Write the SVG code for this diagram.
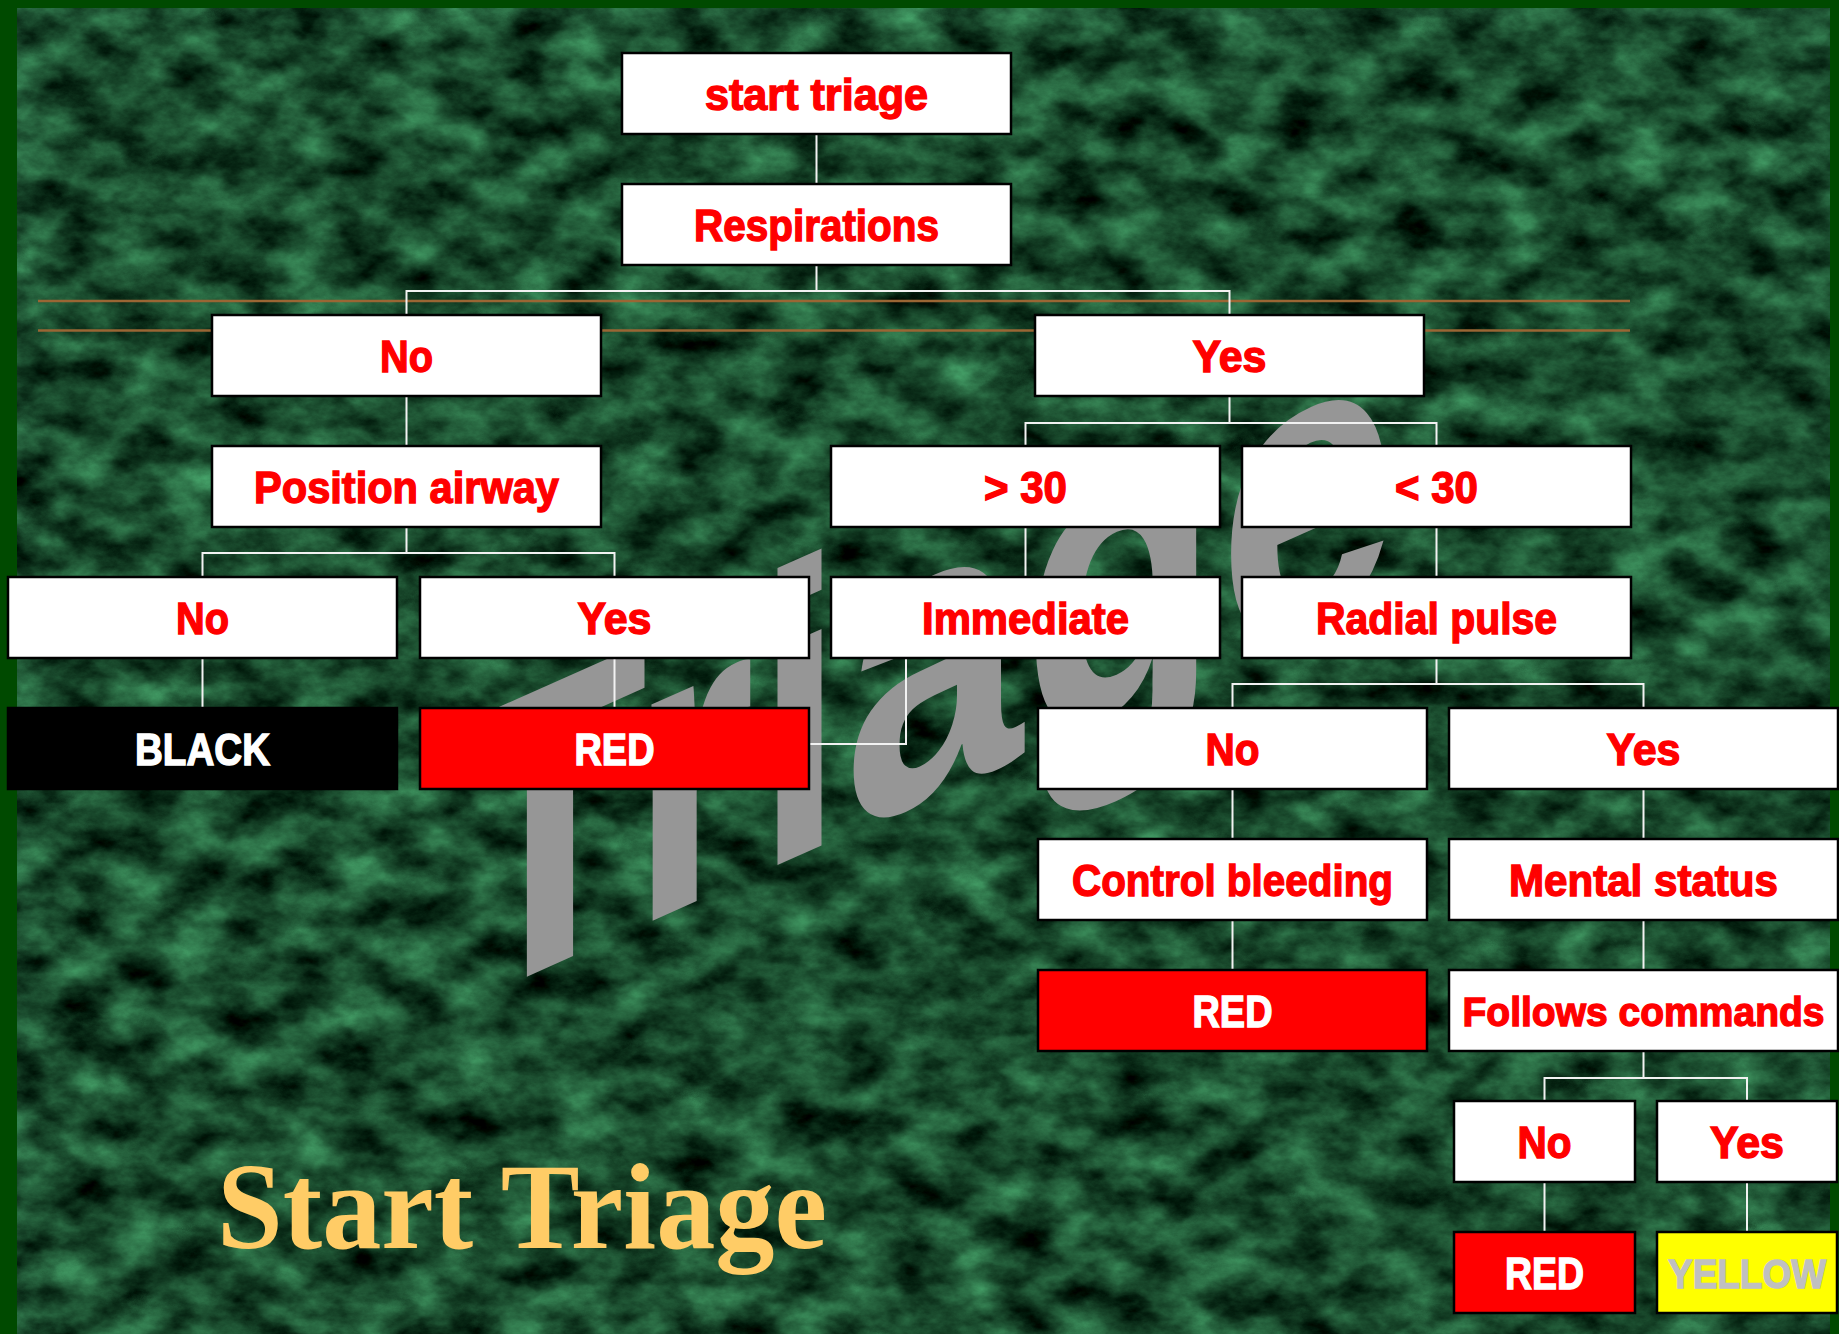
<svg xmlns="http://www.w3.org/2000/svg" width="1839" height="1334" viewBox="0 0 1839 1334">
<style>
.box{fill:#ffffff;stroke:#000000;stroke-width:2.5}
.lbl{font-family:"Liberation Sans",Arial,sans-serif;font-weight:bold;font-size:44px;fill:#ff0000;stroke:#ff0000;stroke-width:1.4;text-anchor:middle}
.tight{font-size:41px}
.wl{fill:#ffffff;stroke:#ffffff}
.gl{fill:#c0c0c0;stroke:#c0c0c0}
.con{fill:none;stroke:#f2f2f2;stroke-width:2}
.brown{stroke:#9a6634;stroke-width:2.5}
</style>
<defs>
<filter id="marble" x="0" y="0" width="100%" height="100%" color-interpolation-filters="sRGB">
<feTurbulence type="fractalNoise" baseFrequency="0.018 0.028" numOctaves="6" seed="7" result="n"/>
<feColorMatrix in="n" type="matrix" values="0.4 0 0 0 -0.1  0.8 0 0 0 -0.11  0.55 0 0 0 -0.1  0 0 0 0 1"/>
</filter>
</defs>
<rect x="0" y="0" width="1839" height="1334" fill="#004a00"/>
<rect x="17" y="8" width="1813" height="1326" fill="#1a5030"/>
<rect x="17" y="8" width="1813" height="1326" filter="url(#marble)"/>
<g id="watermark">
<text x="0" y="0" transform="translate(452 1010) skewY(-24)" font-family="Liberation Sans, Arial, sans-serif" font-weight="bold" font-size="410" textLength="945" lengthAdjust="spacingAndGlyphs" fill="#969696">Triage</text>
</g>
<g id="guides">
<line class="brown" x1="38" y1="301" x2="1630" y2="301"/>
<line class="brown" x1="38" y1="330.5" x2="1630" y2="330.5"/>
</g>
<g id="connectors">
<path class="con" d="M816.5 134V184"/>
<path class="con" d="M816.5 265V291M406.5 315V291H1229.5V315"/>
<path class="con" d="M406.5 396V446"/>
<path class="con" d="M406.5 527V553M202.5 577V553H614.5V577"/>
<path class="con" d="M1229.5 396V423M1025.5 446V423H1436.5V446"/>
<path class="con" d="M1025.5 527V577"/>
<path class="con" d="M1436.5 527V577"/>
<path class="con" d="M202.5 658V708"/>
<path class="con" d="M614.5 658V708"/>
<path class="con" d="M906 658V744H800"/>
<path class="con" d="M1436.5 658V684M1232.5 708V684H1643.5V708"/>
<path class="con" d="M1232.5 789V839M1232.5 920V970"/>
<path class="con" d="M1643.5 789V839M1643.5 920V970"/>
<path class="con" d="M1643.5 1051V1078M1544.5 1101V1078H1747V1101"/>
<path class="con" d="M1544.5 1182V1232M1747 1182V1232"/>
</g>
<g id="n1"><rect class="box" x="622" y="53" width="389" height="81"/><text class="lbl" x="816.5" y="110" textLength="223" lengthAdjust="spacingAndGlyphs">start triage</text></g>
<g id="n2"><rect class="box" x="622" y="184" width="389" height="81"/><text class="lbl" x="816.5" y="241" textLength="245" lengthAdjust="spacingAndGlyphs">Respirations</text></g>
<g id="n3"><rect class="box" x="212" y="315" width="389" height="81"/><text class="lbl" x="406.5" y="371.5" textLength="53" lengthAdjust="spacingAndGlyphs">No</text></g>
<g id="n4"><rect class="box" x="1035" y="315" width="389" height="81"/><text class="lbl" x="1229.5" y="371.5" textLength="74" lengthAdjust="spacingAndGlyphs">Yes</text></g>
<g id="n5"><rect class="box" x="212" y="446" width="389" height="81"/><text class="lbl" x="406.5" y="502.5" textLength="305" lengthAdjust="spacingAndGlyphs">Position airway</text></g>
<g id="n6"><rect class="box" x="831" y="446" width="389" height="81"/><text class="lbl" x="1025.5" y="502.5" textLength="83" lengthAdjust="spacingAndGlyphs">&gt; 30</text></g>
<g id="n7"><rect class="box" x="1242" y="446" width="389" height="81"/><text class="lbl" x="1436.5" y="502.5" textLength="83" lengthAdjust="spacingAndGlyphs">&lt; 30</text></g>
<g id="n8"><rect class="box" x="8" y="577" width="389" height="81"/><text class="lbl" x="202.5" y="633.5" textLength="53" lengthAdjust="spacingAndGlyphs">No</text></g>
<g id="n9"><rect class="box" x="420" y="577" width="389" height="81"/><text class="lbl" x="614.5" y="633.5" textLength="74" lengthAdjust="spacingAndGlyphs">Yes</text></g>
<g id="n10"><rect class="box" x="831" y="577" width="389" height="81"/><text class="lbl" x="1025.5" y="633.5" textLength="207" lengthAdjust="spacingAndGlyphs">Immediate</text></g>
<g id="n11"><rect class="box" x="1242" y="577" width="389" height="81"/><text class="lbl" x="1436.5" y="633.5" textLength="241" lengthAdjust="spacingAndGlyphs">Radial pulse</text></g>
<g id="n12"><rect class="box" x="8" y="708" width="389" height="81" style="fill:#000000"/><text class="lbl wl" x="202.5" y="764.5" textLength="135" lengthAdjust="spacingAndGlyphs">BLACK</text></g>
<g id="n13"><rect class="box" x="420" y="708" width="389" height="81" style="fill:#ff0000"/><text class="lbl wl" x="614.5" y="764.5" textLength="80" lengthAdjust="spacingAndGlyphs">RED</text></g>
<g id="n14"><rect class="box" x="1038" y="708" width="389" height="81"/><text class="lbl" x="1232.5" y="764.5" textLength="54" lengthAdjust="spacingAndGlyphs">No</text></g>
<g id="n15"><rect class="box" x="1449" y="708" width="389" height="81"/><text class="lbl" x="1643.5" y="764.5" textLength="74" lengthAdjust="spacingAndGlyphs">Yes</text></g>
<g id="n16"><rect class="box" x="1038" y="839" width="389" height="81"/><text class="lbl" x="1232.5" y="895.5" textLength="321" lengthAdjust="spacingAndGlyphs">Control bleeding</text></g>
<g id="n17"><rect class="box" x="1449" y="839" width="389" height="81"/><text class="lbl" x="1643.5" y="895.5" textLength="269" lengthAdjust="spacingAndGlyphs">Mental status</text></g>
<g id="n18"><rect class="box" x="1038" y="970" width="389" height="81" style="fill:#ff0000"/><text class="lbl wl" x="1232.5" y="1026.5" textLength="80" lengthAdjust="spacingAndGlyphs">RED</text></g>
<g id="n19"><rect class="box" x="1449" y="970" width="389" height="81"/><text class="lbl tight" x="1643.5" y="1025.5" textLength="362" lengthAdjust="spacingAndGlyphs">Follows commands</text></g>
<g id="n20"><rect class="box" x="1454" y="1101" width="181" height="81"/><text class="lbl" x="1544.5" y="1157.5" textLength="54" lengthAdjust="spacingAndGlyphs">No</text></g>
<g id="n21"><rect class="box" x="1657" y="1101" width="180" height="81"/><text class="lbl" x="1747" y="1157.5" textLength="74" lengthAdjust="spacingAndGlyphs">Yes</text></g>
<g id="n22"><rect class="box" x="1454" y="1232" width="181" height="81" style="fill:#ff0000"/><text class="lbl wl" x="1544.5" y="1288.5" textLength="79" lengthAdjust="spacingAndGlyphs">RED</text></g>
<g id="n23"><rect class="box" x="1657" y="1232" width="180" height="81" style="fill:#ffff00"/><text class="lbl gl tight" x="1747" y="1287.5" textLength="158" lengthAdjust="spacingAndGlyphs">YELLOW</text></g>
<g id="title"><text x="217" y="1248" font-family="Liberation Serif, 'Times New Roman', serif" font-weight="bold" font-size="122" fill="#ffcc66" textLength="610" lengthAdjust="spacingAndGlyphs">Start Triage</text></g>
</svg>
